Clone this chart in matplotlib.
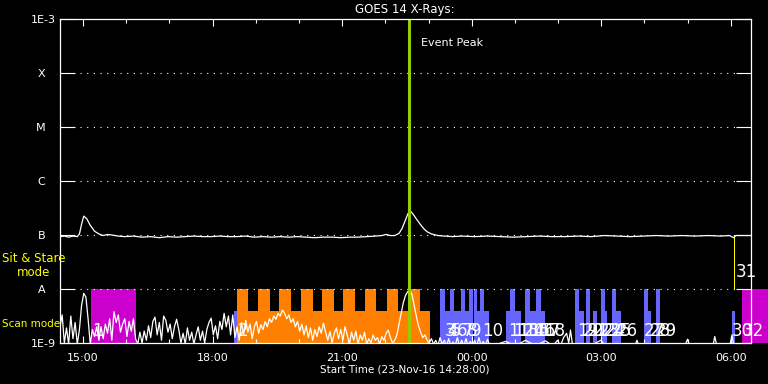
import matplotlib
matplotlib.use('Agg')
import matplotlib.pyplot as plt
import matplotlib.transforms as mtransforms
from matplotlib.ticker import FixedLocator, FuncFormatter, NullLocator
import numpy as np

# time axis: clock hours on 23-Nov-16 (values > 24 are next day)
T_START = 14 + 28 / 60.
T_END = T_START + 16.0
EVENT_PEAK = 22.557

# GOES long channel, log10 flux (W/m^2), hours since start
goes_h = [0.00, 0.10, 0.20, 0.30, 0.40, 0.45, 0.50, 0.55, 0.62, 0.70, 0.80, 0.90,
          1.00, 1.10, 1.20, 1.35, 1.50, 1.70, 1.90, 2.10, 2.30, 2.50, 2.70, 2.90,
          3.10, 3.30, 3.50, 3.70, 3.90, 4.10, 4.30, 4.50, 4.70, 4.90, 5.10, 5.30,
          5.50, 5.70, 5.90, 6.10, 6.30, 6.50, 6.70, 6.90, 7.10, 7.30, 7.45, 7.55,
          7.65, 7.75, 7.85, 7.92, 8.00, 8.06, 8.12, 8.18, 8.25, 8.33, 8.42, 8.50,
          8.60, 8.75, 8.90, 9.10, 9.30, 9.60, 9.90, 10.2, 10.5, 10.8, 11.1, 11.4,
          11.7, 12.0, 12.3, 12.6, 12.9, 13.2, 13.5, 13.8, 14.1, 14.4, 14.7, 15.0,
          15.3, 15.5, 15.6, 15.65, 16.0]
goes_log = [-7.03, -7.02, -7.04, -7.02, -7.03, -6.98, -6.80, -6.65, -6.70, -6.82, -6.93, -6.98,
            -7.01, -6.99, -7.00, -7.02, -7.03, -7.02, -7.04, -7.03, -7.05, -7.03, -7.04, -7.03,
            -7.02, -7.03, -7.03, -7.02, -7.03, -7.03, -7.02, -7.04, -7.03, -7.04, -7.03, -7.04,
            -7.03, -7.04, -7.05, -7.04, -7.04, -7.05, -7.04, -7.04, -7.03, -7.02, -7.01, -6.99,
            -7.01, -7.01, -6.97, -6.88, -6.72, -6.60, -6.56, -6.62, -6.70, -6.79, -6.88, -6.94,
            -6.98, -7.01, -7.02, -7.03, -7.02, -7.03, -7.02, -7.03, -7.04, -7.03, -7.02, -7.03,
            -7.03, -7.02, -7.03, -7.01, -7.02, -7.03, -7.02, -7.01, -7.02, -7.01, -7.02, -7.01,
            -7.02, -7.01, -7.05, -7.01, -7.01]

# lower white trace, log10, 3-minute cadence from start
low_cadence = 0.05
low_log = [-8.70, -8.48, -9.00, -8.72, -9.02, -8.50, -8.92, -8.62, -9.02, -8.75,
           -8.30, -8.08, -8.15, -8.55, -9.02, -8.75, -8.88, -8.70, -8.95, -8.70,
           -8.92, -8.65, -8.82, -8.55, -8.95, -8.42, -8.62, -8.48, -8.80, -8.65,
           -8.55, -8.88, -8.60, -8.78, -8.55, -8.92, -9.02, -8.80, -9.00, -8.78,
           -8.95, -8.68, -8.90, -8.60, -8.52, -8.85, -8.62, -8.95, -8.50, -8.58,
           -8.80, -8.65, -8.92, -8.70, -8.56, -8.75, -9.00, -8.82, -9.02, -8.72,
           -8.95, -8.80, -9.02, -8.85, -8.70, -8.95, -8.78, -9.00, -8.75, -8.62,
           -8.54, -8.85, -8.68, -8.92, -8.60, -8.75, -8.45, -8.70, -8.50, -8.85,
           -8.48, -8.90, -8.70, -8.95, -8.62, -8.85, -8.58, -8.80, -8.65, -8.92,
           -8.70, -8.60, -8.82, -8.66, -8.75, -8.60, -8.70, -8.55, -8.62, -8.50,
           -8.56, -8.45, -8.50, -8.39, -8.45, -8.55, -8.48, -8.62, -8.55, -8.70,
           -8.60, -8.78, -8.65, -8.85, -8.68, -8.90, -8.72, -8.95, -8.75, -8.88,
           -8.70, -8.82, -8.63, -8.80, -8.95, -8.78, -9.00, -8.82, -8.72, -8.92,
           -8.75, -8.95, -8.70, -8.85, -9.02, -8.80, -8.95, -8.78, -9.02, -8.85,
           -8.95, -8.80, -9.02, -8.92, -9.00, -8.85, -8.95, -8.90, -9.02, -8.88,
           -8.95, -8.82, -8.76, -8.90, -9.00, -8.95, -8.85, -8.65, -8.45, -8.25,
           -8.12, -8.05, -8.02, -8.10, -8.30, -8.50, -8.68, -8.80, -8.90, -8.85,
           -8.95, -9.00, -8.92, -9.02, -8.95, -9.05, -8.90, -9.02, -8.95, -9.05,
           -8.92, -9.05, -8.98, -9.05, -8.90, -9.05, -8.95, -9.05, -8.92, -9.05,
           -8.97, -9.05, -8.95, -9.05, -8.90, -9.05, -8.97, -9.05, -8.93, -9.05]
tail_h = [10.09, 10.32, 10.55, 10.78, 11.01, 11.24, 11.41, 11.52, 11.59, 11.66,
          11.73, 11.78, 11.82, 11.87, 12.29, 12.52, 12.64, 13.31, 13.36, 13.40,
          14.47, 14.53, 14.58, 15.12, 15.16, 15.21, 15.51, 15.56, 15.60, 16.02]
tail_log = [-9.03, -8.97, -9.05, -8.95, -9.05, -8.96, -9.05, -8.95, -9.05, -8.90,
            -8.82, -9.00, -8.76, -9.05, -9.05, -8.95, -9.05, -9.05, -8.95, -9.05,
            -9.05, -8.93, -9.05, -9.05, -8.88, -9.05, -9.05, -8.85, -9.05, -9.05]

# IRIS observations: start, end (clock hours), top (log10)
magenta_start = [15.179, 30.256]
magenta_end = [16.229, 30.930]
magenta_top = [-8.0, -8.0]

orange_start = [18.564, 18.564, 19.058, 19.545, 20.048, 20.542, 21.029, 21.532, 22.033, 22.519]
orange_end = [23.029, 18.819, 19.336, 19.823, 20.317, 20.813, 21.307, 21.794, 22.297, 22.791]
orange_top = [-8.4, -8.0, -8.0, -8.0, -8.0, -8.0, -8.0, -8.0, -8.0, -8.0]

blue_start = [18.501,
              23.277, 23.370, 23.493, 23.586, 23.741, 23.841, 23.934, 24.043, 24.128, 24.189, 24.282,
              24.785, 24.884, 24.993, 25.225, 25.357, 25.480, 25.596,
              26.385, 26.484, 26.639, 26.802, 26.987, 27.087, 27.242, 27.351,
              27.991, 28.093, 28.263, 30.024]
blue_end = [18.564,
            23.370, 23.493, 23.586, 23.741, 23.841, 23.934, 24.019, 24.128, 24.189, 24.282, 24.390,
            24.884, 24.993, 25.132, 25.341, 25.480, 25.596, 25.696,
            26.484, 26.600, 26.739, 26.911, 27.087, 27.143, 27.351, 27.451,
            28.093, 28.146, 28.362, 30.094]
blue_top = [-8.4,
            -8.0, -8.4, -8.0, -8.4, -8.0, -8.4, -8.0, -8.0, -8.4, -8.0, -8.4,
            -8.4, -8.0, -8.4, -8.0, -8.4, -8.0, -8.4,
            -8.0, -8.4, -8.0, -8.4, -8.0, -8.4, -8.0, -8.4,
            -8.0, -8.4, -8.0, -8.4]

sas_start = [30.071]
sas_end = [30.094]

obs_labels = [str(n) for n in range(1, 33)]
obs_x = [15.209, 18.594, 23.370, 23.440, 23.509, 23.648, 23.788, 23.880, 23.973, 24.251,
         24.854, 24.970, 25.086, 25.202, 25.318, 25.434, 25.550, 25.666,
         26.431, 26.570, 26.686, 26.802, 26.941, 27.080, 27.219, 27.358,
         27.984, 28.123, 28.262, 30.024, 30.117, 30.270]
obs_upper = ['31']

level_vals = [1e-9, 1e-8, 1e-7, 1e-6, 1e-5, 1e-4, 1e-3]
level_names = ['1E-9', 'A   ', 'B   ', 'C   ', 'M   ', 'X   ', '1E-3']

fig = plt.figure(figsize=(7.68, 3.84), dpi=100, facecolor='black')
ax = fig.add_axes([60 / 768, 41 / 384, 691 / 768, 324 / 384], facecolor='black')
ax.set_yscale('log')
ax.set_xlim(T_START, T_END)
ax.set_ylim(1e-9, 1e-3)

def draw_bars(starts, ends, tops, color, bottom=1e-9):
    for s, e, t in zip(starts, ends, tops):
        ax.bar(s, 10 ** t - bottom, width=e - s, bottom=bottom, align='edge',
               color=color, linewidth=0, zorder=1, clip_on=e < T_END)

draw_bars(orange_start, orange_end, orange_top, '#ff8000')
draw_bars(blue_start, blue_end, blue_top, '#6666ff')
draw_bars(magenta_start, magenta_end, magenta_top, '#cc00cc')
draw_bars(sas_start, sas_end, [-7.0], '#ffff00', bottom=1e-8)

for v in level_vals[1:-1]:
    ax.axhline(v, color='white', lw=0.8, ls=(0, (1, 5)), zorder=2)

low_t = T_START + low_cadence * np.arange(len(low_log))
ax.plot(list(low_t) + [T_START + h for h in tail_h],
        10 ** np.array(low_log + tail_log), color='white', lw=0.9, zorder=3)
ax.plot([T_START + h for h in goes_h], 10 ** np.array(goes_log),
        color='white', lw=0.9, zorder=3)

ax.axvline(EVENT_PEAK, color='#99cc00', lw=2.2, zorder=4)
trans = mtransforms.blended_transform_factory(ax.transData, ax.transAxes)
ax.annotate('Event Peak', xy=(EVENT_PEAK, 0.926), xycoords=trans,
            xytext=(8, 0), textcoords='offset points', color='white',
            fontsize=8, va='center', ha='left')

narrow = ['Liberation Sans Narrow', 'DejaVu Sans']
for lab, x in zip(obs_labels, obs_x):
    if lab in obs_upper:
        ax.text(x, 10 ** -7.69, lab, color='white', fontsize=12, ha='left',
                va='center', zorder=5, family=narrow)
    else:
        ax.text(x, 10 ** -8.95, lab, color='white', fontsize=12, ha='left',
                va='bottom', zorder=5, clip_on=False, family=narrow)

ax.yaxis.set_major_locator(FixedLocator(level_vals))
ax.yaxis.set_minor_locator(NullLocator())
ax.set_yticklabels(level_names)
ax.xaxis.set_major_locator(FixedLocator([15, 18, 21, 24, 27, 30]))
ax.xaxis.set_minor_locator(FixedLocator(list(range(15, 31))))
ax.xaxis.set_major_formatter(FuncFormatter(lambda v, p: '%02d:00' % (int(round(v)) % 24)))

ax.tick_params(axis='y', which='major', direction='in', length=11, width=0.8,
               left=True, right=True, colors='white', labelsize=8, pad=3)
ax.tick_params(axis='x', which='major', direction='in', length=5, width=0.8,
               top=True, bottom=True, colors='white', labelsize=8, pad=7)
ax.tick_params(axis='x', which='minor', direction='in', length=3, width=0.8,
               top=True, bottom=True, colors='white')
for sp in ax.spines.values():
    sp.set_color('white')
    sp.set_linewidth(0.9)
    sp.set_zorder(6)

fig.text(405 / 768, 1 - 9 / 384, 'GOES 14 X-Rays:', color='white', fontsize=8.5,
         ha='center', va='center')
fig.text(405 / 768, 1 - 370 / 384, 'Start Time (23-Nov-16 14:28:00)', color='white',
         fontsize=7.5, ha='center', va='center')
fig.text(34 / 768, 1 - 265.5 / 384, 'Sit & Stare\nmode', color='#ffff00', fontsize=8.5,
         ha='center', va='center', linespacing=1.15)
fig.text(2 / 768, 1 - 324 / 384, 'Scan mode', color='#ffff00', fontsize=7.5,
         ha='left', va='center')

fig.savefig('out.png', dpi=100, facecolor='black')
